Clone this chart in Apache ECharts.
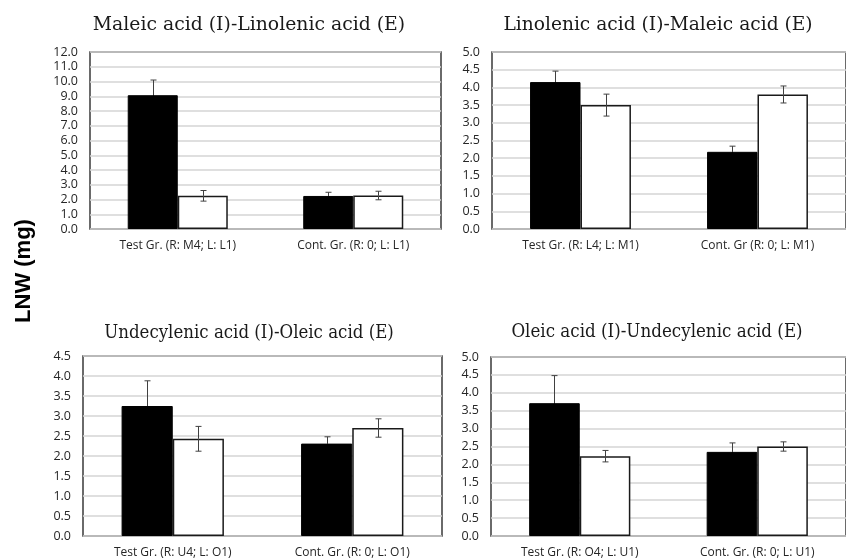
<!DOCTYPE html>
<html>
<head>
<meta charset="utf-8">
<script src="https://cdn.jsdelivr.net/npm/echarts@6/dist/echarts.min.js"></script>
<style>
  html, body { margin: 0; padding: 0; background: #fff; }
  #chart { width: 846px; height: 560px; }
</style>
</head>
<body>
<div id="chart"></div>
<script>
// Panel titles
const titles = [
  'Maleic acid (I)-Linolenic acid (E)',
  'Linolenic acid (I)-Maleic acid (E)',
  'Undecylenic acid (I)-Oleic acid (E)',
  'Oleic acid (I)-Undecylenic acid (E)'
];

// Group labels per panel
const cats1 = ['Test Gr. (R: M4; L: L1)', 'Cont. Gr. (R: 0; L: L1)'];
const cats2 = ['Test Gr. (R: L4; L: M1)', 'Cont. Gr (R: 0; L: M1)'];
const cats3 = ['Test Gr. (R: U4; L: O1)', 'Cont. Gr. (R: 0; L: O1)'];
const cats4 = ['Test Gr. (R: O4; L: U1)', 'Cont. Gr. (R: 0; L: U1)'];

// Mean LNW (mg): filled bars and open bars, with their error values
const filled1 = [9.07, 2.24];  const filledErr1 = [1.03, 0.25];
const open1   = [2.25, 2.27];  const openErr1   = [0.36, 0.29];

const filled2 = [4.15, 2.18];  const filledErr2 = [0.31, 0.16];
const open2   = [3.50, 3.80];  const openErr2   = [0.31, 0.24];

const filled3 = [3.25, 2.31];  const filledErr3 = [0.63, 0.17];
const open3   = [2.43, 2.70];  const openErr3   = [0.31, 0.23];

const filled4 = [3.71, 2.35];  const filledErr4 = [0.77, 0.25];
const open4   = [2.23, 2.50];  const openErr4   = [0.16, 0.13];

// Value axis ranges
const yMax = [12, 5, 4.5, 5];
const yStep = [1, 0.5, 0.5, 0.5];

const panels = [
  { cats: cats1, filled: filled1, filledErr: filledErr1, open: open1, openErr: openErr1 },
  { cats: cats2, filled: filled2, filledErr: filledErr2, open: open2, openErr: openErr2 },
  { cats: cats3, filled: filled3, filledErr: filledErr3, open: open3, openErr: openErr3 },
  { cats: cats4, filled: filled4, filledErr: filledErr4, open: open4, openErr: openErr4 }
];

const grids = [
  { left: 90,  top: 52,  width: 351, height: 177 },
  { left: 492, top: 52,  width: 360, height: 177 },
  { left: 83,  top: 356, width: 359, height: 180 },
  { left: 491, top: 357, width: 358, height: 179 }
];

const titlePos = [[249, 25], [658, 25], [249, 333], [657, 332]];
// Horizontal squeeze of each title so the serif face keeps a compact width
const titleScaleX = [0.99, 0.98, 0.875, 0.88];

const CAT_GAP = 0.43;
const tickFont = '"Open Sans", "Liberation Sans", sans-serif';

// Whiskers: the part inside a filled (black) bar is drawn in black like the bar
function errorBars(side, innerColor) {
  return function (params, api) {
    const i = api.value(0), v = api.value(1), e = api.value(2);
    const c = api.coord([i, v]);
    const band = api.size([1, 0])[0];
    const bw = band * (1 - CAT_GAP) / 2;
    const x = Math.round(c[0] + side * bw / 2) + 0.5;
    const ym = c[1];
    const yt = api.coord([i, v + e])[1];
    const yb = api.coord([i, v - e])[1];
    const cap = 3;
    const outer = { stroke: '#404040', lineWidth: 1 };
    const inner = { stroke: innerColor, lineWidth: 1 };
    return {
      type: 'group',
      children: [
        { type: 'line', shape: { x1: x, y1: yt, x2: x, y2: ym }, style: outer },
        { type: 'line', shape: { x1: x - cap, y1: yt, x2: x + cap, y2: yt }, style: outer },
        { type: 'line', shape: { x1: x, y1: ym, x2: x, y2: yb }, style: inner },
        { type: 'line', shape: { x1: x - cap, y1: yb, x2: x + cap, y2: yb }, style: inner }
      ]
    };
  };
}

const option = {
  animation: false,
  backgroundColor: '#fff',
  grid: grids.map(g => Object.assign({
    show: true, borderColor: '#3a3a3a', borderWidth: 1.5, backgroundColor: 'transparent'
  }, g)),
  xAxis: panels.map((p, k) => ({
    type: 'category',
    gridIndex: k,
    data: p.cats,
    axisLine: { show: false },
    axisTick: { show: false },
    axisLabel: { color: '#262626', fontFamily: tickFont, fontSize: 12, margin: 11, interval: 0 }
  })),
  yAxis: panels.map((p, k) => ({
    type: 'value',
    gridIndex: k,
    min: 0,
    max: yMax[k],
    interval: yStep[k],
    axisLine: { show: false },
    axisTick: { show: false },
    splitLine: { lineStyle: { color: '#d4d4d4', width: 1.5 } },
    axisLabel: {
      color: '#262626', fontFamily: tickFont, fontSize: 12.5, margin: 12,
      formatter: v => v.toFixed(1)
    }
  })),
  series: [],
  graphic: []
};

panels.forEach((p, k) => {
  option.series.push({
    type: 'bar', xAxisIndex: k, yAxisIndex: k,
    data: p.filled,
    barGap: '0%', barCategoryGap: (CAT_GAP * 100) + '%',
    itemStyle: { color: '#000', borderColor: '#000', borderWidth: 1 },
    z: 2
  });
  option.series.push({
    type: 'bar', xAxisIndex: k, yAxisIndex: k,
    data: p.open,
    barGap: '0%', barCategoryGap: (CAT_GAP * 100) + '%',
    itemStyle: { color: '#fff', borderColor: '#1a1a1a', borderWidth: 1.5 },
    z: 2
  });
  option.series.push({
    type: 'custom', xAxisIndex: k, yAxisIndex: k,
    renderItem: errorBars(-1, '#000'),
    data: p.filled.map((v, i) => [i, v, p.filledErr[i]]),
    encode: { x: 0, y: 1 },
    z: 5
  });
  option.series.push({
    type: 'custom', xAxisIndex: k, yAxisIndex: k,
    renderItem: errorBars(1, '#404040'),
    data: p.open.map((v, i) => [i, v, p.openErr[i]]),
    encode: { x: 0, y: 1 },
    z: 5
  });
  option.graphic.push({
    type: 'text',
    x: titlePos[k][0], y: titlePos[k][1],
    scaleX: titleScaleX[k],
    style: {
      text: titles[k],
      fill: '#1a1a1a',
      font: '19px "DejaVu Serif", serif',
      textAlign: 'center',
      textVerticalAlign: 'middle'
    }
  });
});

option.graphic.push({
  type: 'text',
  x: 24, y: 271,
  rotation: Math.PI / 2,
  style: {
    text: 'LNW (mg)',
    fill: '#000',
    font: 'bold 22px "Liberation Sans", Arial, sans-serif',
    textAlign: 'center',
    textVerticalAlign: 'middle'
  }
});

const chart = echarts.init(document.getElementById('chart'), null, { renderer: 'canvas' });
chart.setOption(option);
</script>
</body>
</html>
